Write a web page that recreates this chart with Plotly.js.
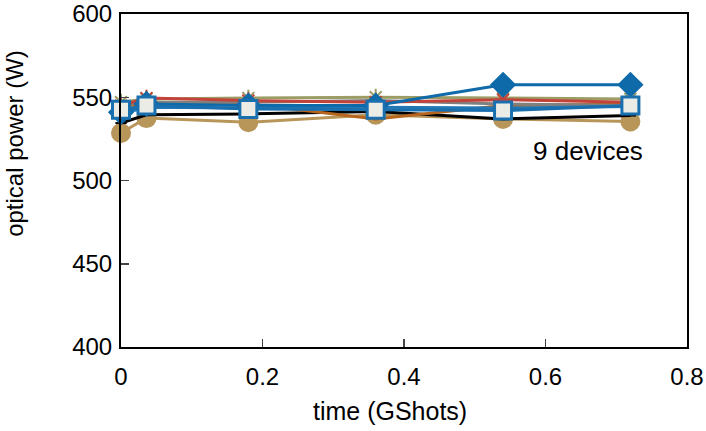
<!DOCTYPE html>
<html>
<head>
<meta charset="utf-8">
<script src="https://cdn.plot.ly/plotly-3.0.1.min.js"></script>
<style>
  body { margin: 0; background: #fff; }
  #chart { width: 706px; height: 431px; }
</style>
</head>
<body>
<div id="chart"></div>
<script>
// time points (GShots)
const timeGS = [0, 0.036, 0.18, 0.36, 0.54, 0.72];

// optical power per device (W)
const devTan    = [528.5, 537.5, 535, 539.5, 537, 535.5];
const devBlack  = [534.5, 539.5, 540, 541.5, 537, 539];
const devOrange = [544, 547, 546, 537, 545, 546];
const devGray   = [546, 547, 547, 548, 546, 545];
const devOlive  = [547, 549, 549.5, 550, 549.5, 549];
const devRed    = [545, 549.5, 548, 547, 548.5, 547];
const devBlue   = [540, 544, 543.5, 544, 543.5, 544.5];
const devDiam   = [541, 546, 545, 545, 557.5, 557.5];
const devSquare = [542.5, 545, 543, 542.5, 542, 545];

const tickLabelsX = ['0', '0.2', '0.4', '0.6', '0.8'];

function series(y, color, sym, size) {
  return {
    x: timeGS,
    y: y,
    mode: 'lines+markers',
    cliponaxis: false,
    line: {color: color, width: 3},
    marker: {symbol: sym, size: size, color: color, line: {color: color, width: 2}},
    hoverinfo: 'skip'
  };
}

let traces = [
  series(devTan, '#b8965a', 'circle', 18),
  series(devBlack, '#000000', 'line-ew', 8),
  series(devOrange, '#b5651d', 'circle', 1),
  series(devGray, '#808080', 'line-ns', 12),
  series(devOlive, '#9c9c64', 'asterisk', 14),
  series(devRed, '#c3423a', 'asterisk', 14),
  series(devBlue, '#2277b4', 'circle', 1),
  series(devDiam, '#0e6aa8', 'diamond', 18),
  {
    x: timeGS,
    y: devSquare,
    mode: 'lines+markers',
    cliponaxis: false,
    line: {color: '#1a6fae', width: 3},
    marker: {symbol: 'square', size: 17, color: '#ecece6', line: {color: '#1a6fae', width: 3}},
    hoverinfo: 'skip'
  }
];

let layout = {
  width: 706,
  height: 431,
  margin: {l: 121, r: 19, t: 14, b: 84},
  paper_bgcolor: '#ffffff',
  plot_bgcolor: '#ffffff',
  showlegend: false,
  font: {family: 'Liberation Sans, Arial, sans-serif', size: 25, color: '#000'},
  xaxis: {
    range: [0, 0.8],
    tickvals: [0, 0.2, 0.4, 0.6, 0.8],
    ticktext: tickLabelsX,
    ticks: 'inside',
    ticklen: 8,
    tickwidth: 1.5,
    ticklabelstandoff: 7,
    ticklabeloverflow: 'allow',
    showgrid: false,
    zeroline: false,
    showline: true,
    linecolor: '#000',
    linewidth: 2,
    mirror: true,
    tickfont: {size: 24}
  },
  yaxis: {
    range: [400, 600],
    dtick: 50,
    ticks: 'inside',
    ticklen: 8,
    tickwidth: 1.5,
    ticklabelstandoff: 2,
    ticklabeloverflow: 'allow',
    showgrid: false,
    zeroline: false,
    showline: true,
    linecolor: '#000',
    linewidth: 2,
    mirror: true,
    tickfont: {size: 24}
  },
  annotations: [
    {
      x: 0.475, y: -0.193, xref: 'paper', yref: 'paper',
      xanchor: 'center', yanchor: 'middle',
      text: 'time (GShots)', showarrow: false,
      font: {size: 25, color: '#000'}
    },
    {
      x: 0, y: 0.61, xref: 'paper', yref: 'paper', xshift: -106,
      xanchor: 'center', yanchor: 'middle',
      text: 'optical power (W)', showarrow: false, textangle: -90,
      font: {size: 24, color: '#000'}
    },
    {
      x: 0.66, y: 518, xref: 'x', yref: 'y',
      text: '9 devices', showarrow: false,
      font: {size: 26, color: '#000'}
    }
  ]
};

Plotly.newPlot('chart', traces, layout, {staticPlot: true, displayModeBar: false});
</script>
</body>
</html>
